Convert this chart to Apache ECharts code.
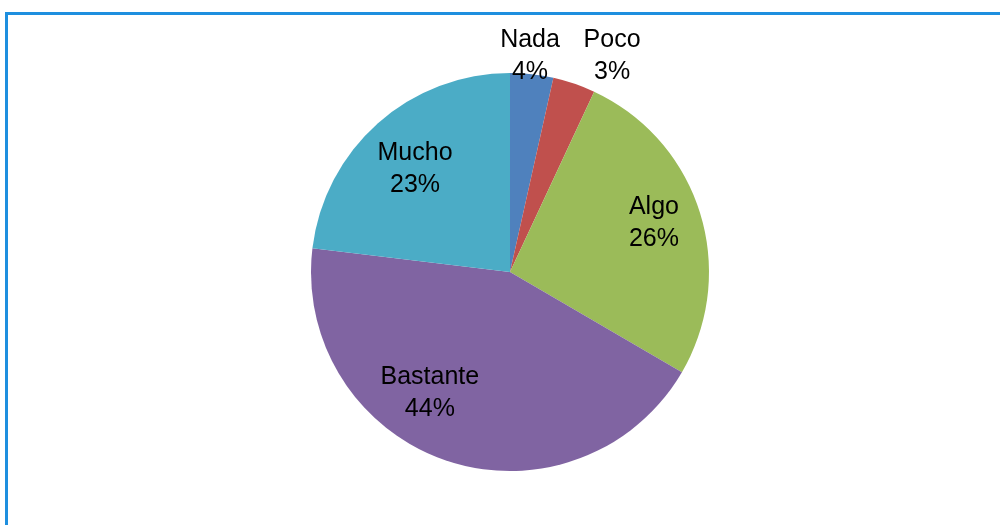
<!DOCTYPE html>
<html>
<head>
<meta charset="utf-8">
<script src="https://cdn.jsdelivr.net/npm/echarts@6/dist/echarts.min.js"></script>
<style>
  html, body { margin: 0; padding: 0; background: #fff; }
  #chart { width: 1000px; height: 525px; }
</style>
</head>
<body>
<div id="chart"></div>
<script>
// 数据
const categories = ['Nada', 'Poco', 'Algo', 'Bastante', 'Mucho']
const values = [3.5, 3.45, 26.45, 43.5, 23.1]
const colors = ['#4F81BD', '#C0504D', '#9BBB59', '#8064A2', '#4BACC6']

// label placement (Excel "best fit" look): angle shift in degrees, radius factor
const labelShift = [-1, 6.5, -1.4, 15, -1.1]
const labelRadius = [1.09, 1.2, 0.764, 0.729, 0.704]

const cx = 510
const cy = 272
const R = 199

const total = values.reduce((a, b) => a + b, 0)
const midAngles = []
let acc = 0
values.forEach(v => {
  midAngles.push((acc + v / 2) / total * 360)
  acc += v
})

const chart = echarts.init(document.getElementById('chart'))
const option = {
  animation: false,
  color: colors,
  graphic: [{
    type: 'rect',
    shape: { x: 6.5, y: 13.5, width: 1200, height: 700 },
    style: { fill: 'none', stroke: '#1e8fdf', lineWidth: 3 },
    silent: true
  }],
  series: [{
    type: 'pie',
    center: [cx, cy],
    radius: R,
    startAngle: 90,
    clockwise: true,
    itemStyle: { borderWidth: 0 },
    label: {
      show: true,
      position: 'inside',
      formatter: p => p.name + '\n' + Math.round(p.percent) + '%',
      fontFamily: 'Liberation Sans, Arial, sans-serif',
      fontSize: 25,
      lineHeight: 32,
      color: '#000',
      align: 'center',
      verticalAlign: 'middle'
    },
    labelLine: { show: false },
    labelLayout: params => {
      const i = params.dataIndex
      const a = (midAngles[i] + labelShift[i]) * Math.PI / 180
      const r = R * labelRadius[i]
      return {
        x: cx + r * Math.sin(a),
        y: cy - r * Math.cos(a),
        align: 'center',
        verticalAlign: 'middle'
      }
    },
    data: categories.map((name, i) => ({ name: name, value: values[i] }))
  }]
}
chart.setOption(option)
</script>
</body>
</html>
